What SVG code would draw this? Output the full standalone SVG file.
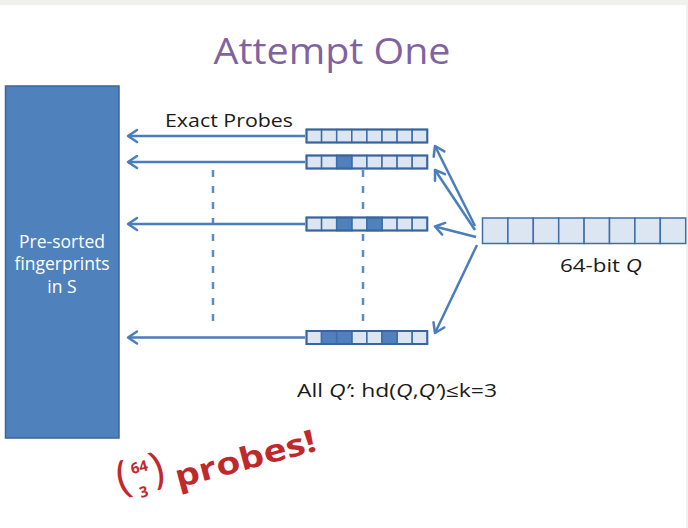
<svg xmlns="http://www.w3.org/2000/svg" width="688" height="528" viewBox="0 0 688 528">
<defs>
<style>
.cell{fill:#dce6f2;stroke:#3f6ea8;stroke-width:1.5}
.dark{fill:#4f81bd;stroke:#3f6ea8;stroke-width:1.5}
.frame{fill:none;stroke:#3a659c;stroke-width:2}
.arr{stroke:#4a7ebb;stroke-width:2.5;fill:none;marker-end:url(#ah)}
.dash{stroke:#5b8bc7;stroke-width:2.5;stroke-dasharray:7 9;fill:none}
.lbl{font-family:"Open Sans","Liberation Sans",sans-serif;fill:#1a1a1a}
.wt{font-family:"Open Sans","Liberation Sans",sans-serif;font-size:17.5px;fill:#ffffff}
</style>
<marker id="ah" markerUnits="userSpaceOnUse" markerWidth="20" markerHeight="20" refX="0" refY="0" viewBox="-12 -10 14 20" orient="auto">
<path d="M-9,-6 L0,0 L-9,6" fill="none" stroke="#4a7ebb" stroke-width="2.5" stroke-linecap="round" stroke-linejoin="round"/>
</marker>
<g id="row8">
<rect class="cell" x="0" y="0" width="15.1" height="13"/>
<rect class="cell" x="15.1" y="0" width="15.1" height="13"/>
<rect class="cell" x="30.2" y="0" width="15.1" height="13"/>
<rect class="cell" x="45.3" y="0" width="15.1" height="13"/>
<rect class="cell" x="60.4" y="0" width="15.1" height="13"/>
<rect class="cell" x="75.5" y="0" width="15.1" height="13"/>
<rect class="cell" x="90.6" y="0" width="15.1" height="13"/>
<rect class="cell" x="105.7" y="0" width="15.1" height="13"/>
</g>
</defs>
<rect x="0" y="0" width="688" height="528" fill="#f0f0ec"/>
<rect x="0" y="5" width="686" height="523" fill="#ffffff"/>

<text x="332" y="64" text-anchor="middle" font-family="'Open Sans','Liberation Sans',sans-serif" font-size="36" fill="#7f63a1" textLength="237" lengthAdjust="spacingAndGlyphs">Attempt One</text>

<g id="store">
<rect x="5.5" y="86" width="113.5" height="352" fill="#4f81bd" stroke="#3a659c" stroke-width="1.5"/>
<text class="wt" x="62" y="248" text-anchor="middle">Pre-sorted</text>
<text class="wt" x="62" y="270" text-anchor="middle">fingerprints</text>
<text class="wt" x="62" y="293" text-anchor="middle">in S</text>
</g>

<g id="connectors">
<line class="dash" x1="213" y1="170" x2="213" y2="330"/>
<line class="dash" x1="363" y1="170" x2="363" y2="330"/>
<line class="arr" x1="305" y1="136" x2="128" y2="136"/>
<line class="arr" x1="305" y1="162" x2="128" y2="162"/>
<line class="arr" x1="305" y1="224" x2="128" y2="224"/>
<line class="arr" x1="305" y1="337.5" x2="128" y2="337.5"/>
<line class="arr" x1="475" y1="226" x2="435" y2="146"/>
<line class="arr" x1="475" y1="230" x2="435" y2="170"/>
<line class="arr" x1="476" y1="237" x2="435" y2="226.5"/>
<line class="arr" x1="477" y1="245" x2="435" y2="333"/>
</g>

<text class="lbl" x="229" y="127" text-anchor="middle" font-size="17.5" textLength="128" lengthAdjust="spacingAndGlyphs">Exact Probes</text>

<g id="probe1">
<use href="#row8" x="306.5" y="129.5"/>
<rect class="frame" x="306.5" y="129.5" width="120.8" height="13"/>
</g>
<g id="probe2">
<use href="#row8" x="306.5" y="155.5"/>
<rect class="dark" x="336.7" y="155.5" width="15.1" height="13"/>
<rect class="frame" x="306.5" y="155.5" width="120.8" height="13"/>
</g>
<g id="probe3">
<use href="#row8" x="306.5" y="217.5"/>
<rect class="dark" x="336.7" y="217.5" width="15.1" height="13"/>
<rect class="dark" x="366.9" y="217.5" width="15.1" height="13"/>
<rect class="frame" x="306.5" y="217.5" width="120.8" height="13"/>
</g>
<g id="probe4">
<use href="#row8" x="306.5" y="331"/>
<rect class="dark" x="321.6" y="331" width="15.1" height="13"/>
<rect class="dark" x="336.7" y="331" width="15.1" height="13"/>
<rect class="dark" x="382" y="331" width="15.1" height="13"/>
<rect class="frame" x="306.5" y="331" width="120.8" height="13"/>
</g>

<g id="query">
<rect class="cell" x="482.5" y="218" width="25.4" height="25.5"/>
<rect class="cell" x="507.9" y="218" width="25.4" height="25.5"/>
<rect class="cell" x="533.3" y="218" width="25.4" height="25.5"/>
<rect class="cell" x="558.7" y="218" width="25.4" height="25.5"/>
<rect class="cell" x="584.1" y="218" width="25.4" height="25.5"/>
<rect class="cell" x="609.5" y="218" width="25.4" height="25.5"/>
<rect class="cell" x="634.9" y="218" width="25.4" height="25.5"/>
<rect class="cell" x="660.3" y="218" width="25.4" height="25.5"/>
<text class="lbl" x="601" y="272" text-anchor="middle" font-size="19" textLength="82" lengthAdjust="spacingAndGlyphs">64-bit <tspan font-style="italic">Q</tspan></text>
</g>

<text class="lbl" x="397" y="397" text-anchor="middle" font-size="17.5" textLength="200" lengthAdjust="spacingAndGlyphs">All <tspan font-style="italic">Q’</tspan>: hd(<tspan font-style="italic">Q</tspan>,<tspan font-style="italic">Q’</tspan>)≤k=3</text>

<g id="wordart" transform="translate(178,488) rotate(-15)" font-family="'Open Sans','Liberation Sans',sans-serif" font-weight="bold" fill="#c0292b">
<text x="-57" y="-10" font-size="44" font-weight="normal">(</text>
<text x="-32" y="-25" font-size="15" text-anchor="middle">64</text>
<text x="-34" y="0" font-size="15" text-anchor="middle">3</text>
<text x="-22" y="-10" font-size="44" font-weight="normal">)</text>
<text x="0" y="0" font-size="31" textLength="145" lengthAdjust="spacingAndGlyphs">probes!</text>
</g>
</svg>
